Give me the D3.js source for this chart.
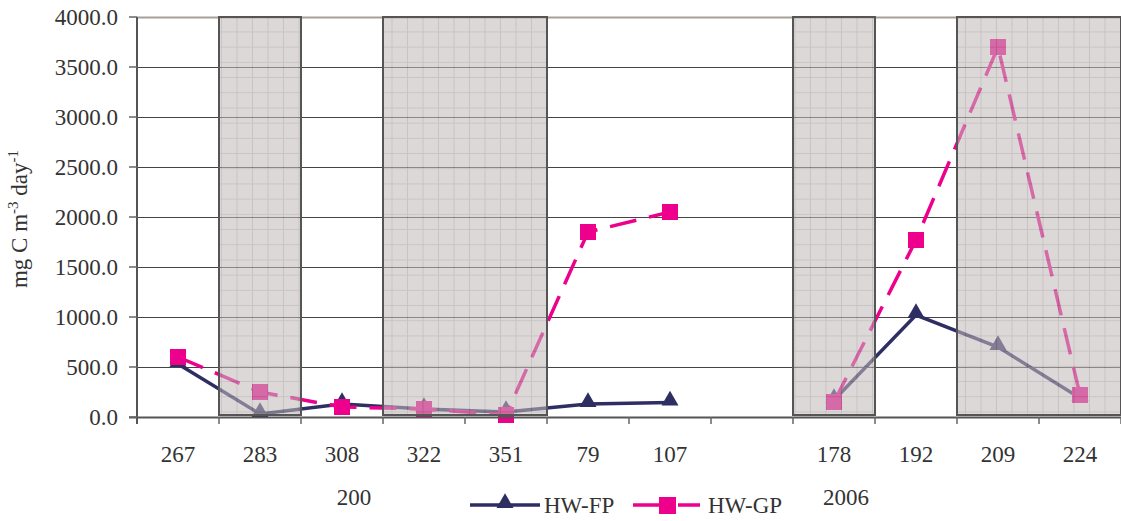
<!DOCTYPE html>
<html>
<head>
<meta charset="utf-8">
<script src="https://cdn.jsdelivr.net/npm/d3@7"></script>
<style>
  body { margin: 0; background: #fff; }
  text { font-family: "Liberation Serif", "Times New Roman", serif; fill: #333; }
</style>
</head>
<body>
<div id="chart"></div>
<script>
// sampling days (blank slot separates the two campaigns)
var days = ["267", "283", "308", "322", "351", "79", "107", "", "178", "192", "209", "224"];
var hwFP = [530, 30, 130, 80, 50, 130, 145, null, 170, 1020, 700, 190];
var hwGP = [600, 250, 100, 80, 20, 1850, 2050, null, 150, 1770, 3700, 220];
var yTicks = [0, 500, 1000, 1500, 2000, 2500, 3000, 3500, 4000];
// shaded periods, first and last day of each
var shaded = [["283", "283"], ["322", "351"], ["178", "178"], ["209", "224"]];
var yearLabels = [{ day: "308", text: "200" }, { day: "178", text: "2006" }];

var w = 1121, h = 521;
var pLeft = 137, pRight = 1121, pTop = 17, pBottom = 417;

var svg = d3.select("#chart").append("svg")
    .attr("width", w)
    .attr("height", h);

var xScale = d3.scaleBand().domain(days).range([pLeft, pRight]);
var yScale = d3.scaleLinear().domain([0, 4000]).range([pBottom, pTop]);

var defs = svg.append("defs");
var pat = defs.append("pattern")
    .attr("id", "grid")
    .attr("patternUnits", "userSpaceOnUse")
    .attr("x", 5).attr("y", 2)
    .attr("width", 15.5).attr("height", 15.2);
pat.append("rect").attr("width", 15.5).attr("height", 15.2).attr("fill", "rgb(195,187,187)");
pat.append("path").attr("d", "M15,0V15.2M0,14.7H15.5")
    .attr("stroke", "rgb(160,150,150)").attr("stroke-width", 1).attr("fill", "none");

// horizontal gridlines
svg.append("g").selectAll("line")
    .data(yTicks.filter(function(d) { return d > 0; }))
    .enter().append("line")
    .attr("x1", pLeft).attr("x2", pRight)
    .attr("y1", function(d) { return Math.round(yScale(d)) + 0.5; })
    .attr("y2", function(d) { return Math.round(yScale(d)) + 0.5; })
    .attr("stroke", function(d) { return d == 4000 ? "#a89f98" : "#444"; })
    .attr("stroke-width", function(d) { return d == 4000 ? 2 : 1.2; });

function xc(d, i) { return xScale(days[i]) + xScale.bandwidth() / 2; }

var line = d3.line()
    .defined(function(d) { return d != null; })
    .x(function(d, i) { return xc(d, i); })
    .y(function(d) { return yScale(d); });

svg.append("path").datum(hwFP)
    .attr("fill", "none").attr("stroke", "#2e2e63").attr("stroke-width", 3.5)
    .attr("d", line);

svg.append("path").datum(hwGP)
    .attr("fill", "none").attr("stroke", "#ec008c").attr("stroke-width", 3.5)
    .attr("stroke-dasharray", "27,13")
    .attr("d", line);

var tri = d3.symbol().type(d3.symbolTriangle).size(125);

svg.append("g").selectAll("path")
    .data(hwFP.map(function(v, i) { return { v: v, i: i }; }).filter(function(d) { return d.v != null; }))
    .enter().append("path")
    .attr("d", tri)
    .attr("transform", function(d) { return "translate(" + xc(d.v, d.i) + "," + (yScale(d.v) - 2) + ")"; })
    .attr("fill", "#2e2e63");

svg.append("g").selectAll("rect")
    .data(hwGP.map(function(v, i) { return { v: v, i: i }; }).filter(function(d) { return d.v != null; }))
    .enter().append("rect")
    .attr("x", function(d) { return xc(d.v, d.i) - 8; })
    .attr("y", function(d) { return yScale(d.v) - 8; })
    .attr("width", 16).attr("height", 16)
    .attr("fill", "#ec008c");

// shaded periods drawn over the data, semi transparent
svg.append("g").selectAll("rect")
    .data(shaded)
    .enter().append("rect")
    .attr("x", function(d) { return xScale(d[0]); })
    .attr("y", pTop)
    .attr("width", function(d) { return Math.min(xScale(d[1]) + xScale.bandwidth(), pRight) - xScale(d[0]); })
    .attr("height", pBottom - 2 - pTop)
    .attr("fill", "url(#grid)")
    .attr("fill-opacity", 0.57)
    .attr("stroke", "#555")
    .attr("stroke-width", 2);

// x axis with ticks between categories
var xTicks = days.map(function(d) { return xScale(d); }).concat([pRight]);
svg.append("line")
    .attr("x1", pLeft - 8).attr("x2", pRight)
    .attr("y1", pBottom + 0.5).attr("y2", pBottom + 0.5)
    .attr("stroke", "#555").attr("stroke-width", 2);
svg.append("g").selectAll("line")
    .data(xTicks)
    .enter().append("line")
    .attr("x1", function(d) { return d; }).attr("x2", function(d) { return d; })
    .attr("y1", pBottom).attr("y2", pBottom + 7)
    .attr("stroke", "#666").attr("stroke-width", 1.5);

svg.append("g").selectAll("text")
    .data(days)
    .enter().append("text")
    .attr("x", function(d) { return xScale(d) + xScale.bandwidth() / 2; })
    .attr("y", 462)
    .attr("text-anchor", "middle")
    .style("font-size", "23px")
    .text(function(d) { return d; });

svg.append("g").selectAll("text")
    .data(yearLabels)
    .enter().append("text")
    .attr("x", function(d) { return xScale(d.day) + xScale.bandwidth() / 2 + 12; })
    .attr("y", 505)
    .attr("text-anchor", "middle")
    .style("font-size", "23px")
    .text(function(d) { return d.text; });

// y axis
svg.append("line")
    .attr("x1", pLeft).attr("x2", pLeft)
    .attr("y1", pTop).attr("y2", pBottom + 7)
    .attr("stroke", "#555").attr("stroke-width", 2);
svg.append("g").selectAll("line")
    .data(yTicks)
    .enter().append("line")
    .attr("x1", pLeft - 8).attr("x2", pLeft)
    .attr("y1", function(d) { return yScale(d); })
    .attr("y2", function(d) { return yScale(d); })
    .attr("stroke", "#666").attr("stroke-width", 1.5);
svg.append("g").selectAll("text")
    .data(yTicks)
    .enter().append("text")
    .attr("x", 118)
    .attr("y", function(d) { return yScale(d) + 8; })
    .attr("text-anchor", "end")
    .style("font-size", "23px")
    .text(function(d) { return d.toFixed(1); });

var yl = svg.append("text")
    .attr("transform", "translate(27,219) rotate(-90)")
    .attr("text-anchor", "middle")
    .style("font-size", "23px");
yl.append("tspan").text("mg C m");
yl.append("tspan").attr("dy", -9).style("font-size", "15px").text("-3");
yl.append("tspan").attr("dy", 9).text(" day");
yl.append("tspan").attr("dy", -9).style("font-size", "15px").text("-1");

// legend
var lg = svg.append("g");
lg.append("line").attr("x1", 470).attr("x2", 540).attr("y1", 505).attr("y2", 505)
    .attr("stroke", "#2e2e63").attr("stroke-width", 3.5);
lg.append("path").attr("d", tri).attr("transform", "translate(505,503)").attr("fill", "#2e2e63");
lg.append("text").attr("x", 544).attr("y", 513).style("font-size", "23px").text("HW-FP");
lg.append("line").attr("x1", 633).attr("x2", 700).attr("y1", 505).attr("y2", 505)
    .attr("stroke", "#ec008c").attr("stroke-width", 3.5).attr("stroke-dasharray", "27,18,22");
lg.append("rect").attr("x", 659).attr("y", 497).attr("width", 17).attr("height", 17).attr("fill", "#ec008c");
lg.append("text").attr("x", 708).attr("y", 513).style("font-size", "23px").text("HW-GP");
</script>
</body>
</html>
